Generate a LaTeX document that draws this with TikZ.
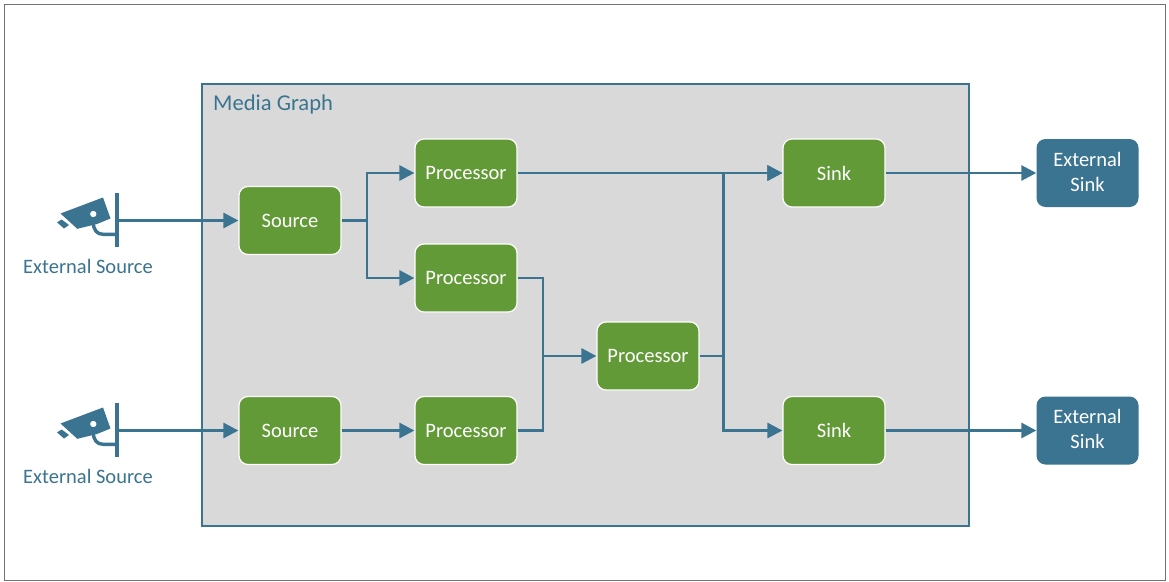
\documentclass[tikz,border=0pt]{standalone}
\usepackage{fontspec}
\setmainfont{Carlito}
\usetikzlibrary{arrows.meta}
\definecolor{teal1}{HTML}{3A7490}
\definecolor{grn}{HTML}{639A38}
\definecolor{gry}{HTML}{D9D9D9}
\tikzset{
 x=1pt,y=-1pt,
 blockbox/.style={draw=white,line width=1.2pt,fill=grn,rounded corners=9pt,minimum width=102pt,minimum height=68pt,inner sep=0pt,text=white,font=\fontsize{20.5}{22}\selectfont,align=center},
 extbox/.style={fill=teal1,rounded corners=9pt,minimum width=102pt,minimum height=68pt,inner sep=0pt,text=white,font=\fontsize{20.5}{25}\selectfont,align=center,text depth=2pt},
 conn/.style={draw=teal1,line width=2.8pt},
 arr/.style={conn,-{Triangle[length=15pt,width=15pt]}},
 lbl/.style={text=teal1,font=\fontsize{20.5}{22}\selectfont,inner sep=0pt},
}
\begin{document}
\begin{tikzpicture}
\useasboundingbox (0,0) rectangle (1169,581);
\fill[white] (0,0) rectangle (1169,581);
\draw[draw=black!55,line width=1pt] (4.5,4.5) rectangle (1165,580);
\draw[draw=teal1,fill=gry,line width=1.4pt] (202,84) rectangle (969,526);
\node[lbl,anchor=west] (title) at (213,104.5) {\fontsize{22.6}{24}\selectfont Media Graph};

\node[blockbox] (s1) at (290,220.5) {Source};
\node[blockbox] (s2) at (290,430.5) {Source};
\node[blockbox] (p1) at (466,173) {Processor};
\node[blockbox] (p2) at (466,278) {Processor};
\node[blockbox] (p3) at (466,430.5) {Processor};
\node[blockbox] (p4) at (648,356) {Processor};
\node[blockbox] (k1) at (834,173) {Sink};
\node[blockbox] (k2) at (834,430.5) {Sink};
\node[extbox] (e1) at (1087.5,173) {\raisebox{1pt}{External}\\\raisebox{1pt}{Sink}};
\node[extbox] (e2) at (1087.5,430.5) {\raisebox{1pt}{External}\\\raisebox{1pt}{Sink}};
\node[lbl] (l1) at (88,266) {External Source};
\node[lbl] (l2) at (88,476) {External Source};

\foreach \dy/\nm in {0/a,210/b}{
 \begin{scope}[yshift=-\dy pt]
  \fill[teal1,even odd rule] (60.5,213.5) -- (103,197.5) -- (110.5,218.5) -- (97,224) -- (77.3,228.8) -- cycle
    (96.6,214) arc[start angle=0,end angle=360,radius=3.3];
  \fill[teal1] (57,222.3) -- (61.7,219.5) -- (69,225) -- (64,228.5) -- cycle;
  \draw[teal1,line width=3.4pt] (93.3,222) .. controls (93.3,230) and (97,234.3) .. (103,234.3) -- (116,234.3);
  \fill[teal1] (114.8,193) rectangle (118.8,247);
  \coordinate (bar\nm) at (118,220.5);
 \end{scope}
}
\draw[arr] (bara) -- (s1.west);
\draw[arr] (barb) -- (s2.west);

\coordinate (j1) at (367,220.5);
\draw[conn] (s1.east) -- (j1);
\draw[arr] (j1) |- (p1.west);
\draw[arr] (j1) |- (p2.west);
\draw[arr] (s2.east) -- (p3.west);

\coordinate (j2) at (543,356);
\draw[conn] (p2.east) -| (j2);
\draw[conn] (p3.east) -| (j2);
\draw[arr] (j2) -- (p4.west);

\coordinate (j3) at (723.5,356);
\draw[arr] (p1.east) -- (k1.west);
\draw[conn] (p4.east) -- (j3);
\draw[arr] (j3) |- (k1.west);
\draw[arr] (j3) |- (k2.west);
\draw[arr] (k1.east) -- (e1.west);
\draw[arr] (k2.east) -- (e2.west);
\end{tikzpicture}
\end{document}
